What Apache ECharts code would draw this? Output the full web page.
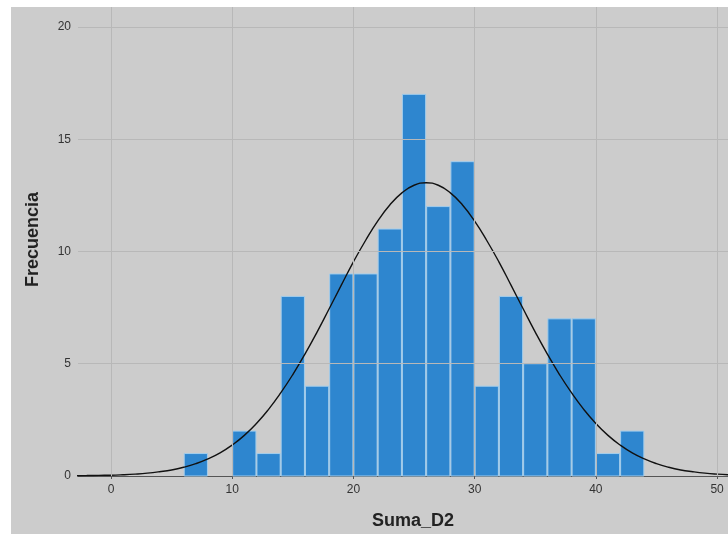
<!DOCTYPE html>
<html>
<head>
<meta charset="utf-8">
<script src="https://cdn.jsdelivr.net/npm/echarts@6/dist/echarts.min.js"></script>
<style>
    html, body { margin: 0; padding: 0; background: #ffffff; }
    #panel { position: absolute; left: 11px; top: 7px; width: 717px; height: 527px; background: #cccccc; }
</style>
</head>
<body>
<div id="panel"></div>
<script>
// 直方图: 每个区间的起点和频数 (区间宽度 2)
var binStart = [6, 8, 10, 12, 14, 16, 18, 20, 22, 24, 26, 28, 30, 32, 34, 36, 38, 40, 42];
var binCount = [1, 0, 2, 1, 8, 4, 9, 9, 11, 17, 12, 14, 4, 8, 5, 7, 7, 1, 2];
var binWidth = 2;
// 正态曲线 (从图上读出的点, 每隔 1)
var curveX = [-3, -2, -1, 0, 1, 2, 3, 4, 5, 6, 7, 8, 9, 10, 11, 12, 13, 14, 15, 16, 17, 18, 19, 20, 21, 22, 23, 24, 25,
              26, 27, 28, 29, 30, 31, 32, 33, 34, 35, 36, 37, 38, 39, 40, 41, 42, 43, 44, 45, 46, 47, 48, 49, 50, 51];
var curveY = [0.01, 0.02, 0.03, 0.035, 0.054, 0.084, 0.127, 0.19, 0.27, 0.39, 0.55, 0.76, 1.03, 1.38, 1.81, 2.34, 2.97, 3.7, 4.52, 5.43, 6.41, 7.45, 8.5, 9.54, 10.49, 11.35, 12.07, 12.61, 12.95,
              13.06, 12.95, 12.61, 12.07, 11.35, 10.49, 9.54, 8.5, 7.45, 6.41, 5.43, 4.52, 3.7, 2.97, 2.34, 1.81, 1.38, 1.03, 0.76, 0.55, 0.39, 0.27, 0.19, 0.127, 0.084, 0.054];
// 刻度
var xTicks = [0, 10, 20, 30, 40, 50];
var yTicks = [0, 5, 10, 15, 20];

var barData = [];
for (var i = 0; i < binStart.length; i++) {
    barData.push([binStart[i], binStart[i] + binWidth, binCount[i]]);
}
var lineData = [];
for (var j = 0; j < curveX.length; j++) {
    lineData.push([curveX[j], curveY[j]]);
}
// 网格线
var gridLines = [];
for (var k = 0; k < xTicks.length; k++) gridLines.push({ xAxis: xTicks[k] });
for (var m = 1; m < yTicks.length; m++) gridLines.push({ yAxis: yTicks[m] });

var myChart = echarts.init(document.getElementById('panel'));
var option = {
    animation: false,
    grid: { left: 67, right: 0, top: 0, bottom: 58 },
    xAxis: {
        type: 'value',
        min: -2.72,
        max: 50.9,
        axisLine: { show: true, onZero: false, lineStyle: { color: '#555555', width: 1 } },
        axisTick: { show: true, length: 3, customValues: xTicks, lineStyle: { color: '#555555' } },
        axisLabel: { customValues: xTicks, color: '#333333', fontSize: 12, fontFamily: 'Liberation Sans, Arial, sans-serif', margin: 8 },
        splitLine: { show: false }
    },
    yAxis: {
        type: 'value',
        min: 0,
        max: 20.89,
        axisLine: { show: true, lineStyle: { color: '#555555', width: 1 } },
        axisTick: { show: true, length: 3, customValues: yTicks, lineStyle: { color: '#555555' } },
        axisLabel: { customValues: yTicks, color: '#333333', fontSize: 12, fontFamily: 'Liberation Sans, Arial, sans-serif', margin: 7 },
        splitLine: { show: false }
    },
    graphic: [
        {
            type: 'text', rotation: Math.PI / 2,
            style: { text: 'Frecuencia', fill: '#222222', font: 'bold 18px "Liberation Sans", Arial, sans-serif' },
            x: 13, y: 280
        },
        {
            type: 'text', left: 361, top: 505,
            style: { text: 'Suma_D2', fill: '#222222', font: 'bold 18px "Liberation Sans", Arial, sans-serif' }
        }
    ],
    series: [
        {
            type: 'line',
            data: [],
            z: 1,
            silent: true,
            markLine: {
                silent: true,
                symbol: 'none',
                label: { show: false },
                lineStyle: { color: '#b8b8b8', width: 1, type: 'solid' },
                data: gridLines
            }
        },
        {
            type: 'custom',
            z: 2,
            data: barData,
            encode: { x: [0, 1], y: 2 },
            renderItem: function (params, api) {
                var y = api.value(2);
                if (!y) return null;
                var p0 = api.coord([api.value(0), y]);
                var p1 = api.coord([api.value(1), 0]);
                return {
                    type: 'rect',
                    shape: { x: p0[0] + 0.5, y: p0[1], width: p1[0] - p0[0] - 1, height: p1[1] - p0[1] },
                    style: { fill: '#2e86cf', stroke: '#a3cdec', lineWidth: 1 }
                };
            }
        },
        {
            type: 'line',
            z: 3,
            data: lineData,
            smooth: true,
            showSymbol: false,
            lineStyle: { color: '#111111', width: 1.4 }
        }
    ]
};
myChart.setOption(option);
</script>
</body>
</html>
